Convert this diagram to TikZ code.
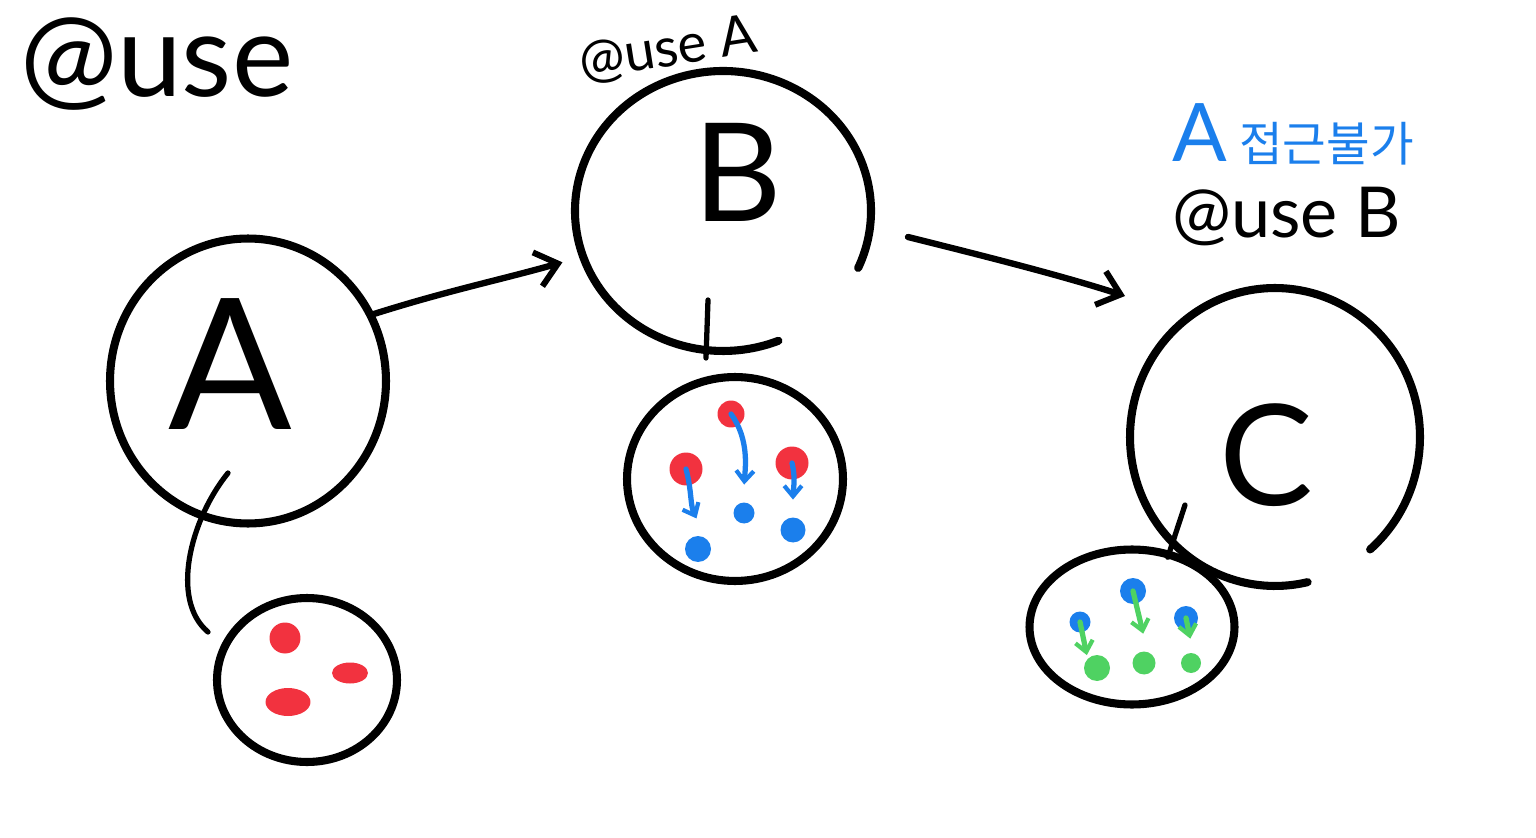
\documentclass[tikz,border=0pt]{standalone}
\usepackage{fontspec}
\setmainfont{Lato}
\newfontfamily\kor{Noto Sans CJK KR}
\usetikzlibrary{shapes.geometric,arrows.meta}
\definecolor{dotred}{HTML}{F2323F}
\definecolor{dotblue}{HTML}{1B7FEC}
\definecolor{dotgreen}{HTML}{4FD262}
\tikzset{
  ink/.style={line width=4.6pt,line cap=round,line join=round,black},
  thin ink/.style={line width=3pt,line cap=round,line join=round,black},
  ring/.style={ellipse,inner sep=0pt,ink,draw},
  holder/.style={ellipse,inner sep=0pt},
  big letter/.style={font=\fontsize{#1}{#1}\selectfont},
  reddot/.style={circle,fill=dotred,inner sep=0pt,minimum size=#1},
  bluedot/.style={circle,fill=dotblue,inner sep=0pt,minimum size=#1},
  greendot/.style={circle,fill=dotgreen,inner sep=0pt,minimum size=#1},
  move/.style={line width=3pt,line cap=round,-{Straight Barb[length=6pt,width=10pt,line width=2.4pt]},shorten >=2pt},
  bigarrow/.style={ink,line width=3.6pt,-{Straight Barb[length=12pt,width=20pt,line width=3.4pt]}}
}
\begin{document}
\begin{tikzpicture}[x=0.02cm,y=-0.02cm]
\useasboundingbox (0,0) rectangle (1536,838);

% headings
\node[big letter=66pt,anchor=west] (t1) at (14,64) {@use};
\node[big letter=31pt,rotate=9] (t2) at (668,50) {@use A};
\node[big letter=27pt,anchor=west,text=dotblue] (t3) at (1166,134) {{\fontsize{46pt}{46pt}\selectfont A} {\kor 접근불가}};
\node[big letter=40pt,anchor=west] (t4) at (1166,217) {@use B};

% circle A
\node[ring,minimum width=5.52cm,minimum height=5.7cm] (A) at (248,381) {};
\node[big letter=104pt] (la) at (230,364) {A};
% small A
\node[ring,minimum width=3.6cm,minimum height=3.28cm] (sa) at (307,680) {};
\node[reddot=0.62cm] (a1) at (285,638) {};
\node[ellipse,fill=dotred,inner sep=0pt,minimum width=0.72cm,minimum height=0.42cm] (a2) at (350,673) {};
\node[ellipse,fill=dotred,inner sep=0pt,minimum width=0.9cm,minimum height=0.56cm] (a3) at (288,702) {};
\coordinate (ja) at (228,473);
\draw[thin ink] (ja) .. controls (190,520) and (170,600) .. (208,632);

% circle B
\coordinate (B) at (723,211);
\node[holder,minimum width=5.92cm,minimum height=5.6cm] (Bn) at (B) {};
\draw[ink] ([shift={(-24:2.96cm and 2.8cm)}]B) arc[start angle=-24,end angle=292,x radius=2.96cm,y radius=2.8cm];
\node[big letter=78pt] (lb) at (738,172) {B};
\coordinate (jb) at (708,300);
\coordinate (jb2) at (706,358);
% small B
\node[ring,minimum width=4.32cm,minimum height=4.08cm] (sb) at (735,479) {};
\draw[thin ink] (jb) -- (jb2);
\node[reddot=0.54cm] (r1) at (731,414) {};
\node[reddot=0.66cm] (r2) at (686,469) {};
\node[reddot=0.66cm] (r3) at (792,463) {};
\node[bluedot=0.52cm] (b1) at (698,549) {};
\node[bluedot=0.42cm] (b2) at (744,513) {};
\node[bluedot=0.5cm] (b3) at (793,530) {};
\draw[move,dotblue] (r1.center) .. controls (750,440) and (745,470) .. ([yshift=8pt]b2.north);
\draw[move,dotblue] (r2.center) .. controls (692,492) and (690,505) .. ([yshift=8pt]b1.north);
\draw[move,dotblue] (r3.center) .. controls (796,480) and (793,490) .. ([yshift=8pt]b3.north);

% arrows between stages
\draw[bigarrow,shorten >=12pt] (A.28) .. controls (450,290) and (500,280) .. (Bn.198);
\draw[bigarrow] (908,237) .. controls (980,255) and (1060,275) .. (1125,296);

% circle C
\coordinate (C) at (1275,437);
\node[holder,minimum width=5.8cm,minimum height=5.96cm] (Cn) at (C) {};
\draw[ink] ([shift={(-49:2.9cm and 2.98cm)}]C) arc[start angle=-49,end angle=283,x radius=2.9cm,y radius=2.98cm];
\node[big letter=80pt] (lc) at (1266,455) {C};
\coordinate (jc) at (1185,505);
% small C
\node[ring,minimum width=4.1cm,minimum height=3.1cm] (sc) at (1132,627) {};
\draw[thin ink] (jc) -- ([yshift=-4pt]sc.65);
\node[bluedot=0.42cm] (c1) at (1080,622) {};
\node[bluedot=0.52cm] (c2) at (1133,591) {};
\node[bluedot=0.48cm] (c3) at (1186,618) {};
\node[greendot=0.52cm] (g1) at (1097,668) {};
\node[greendot=0.46cm] (g2) at (1144,663) {};
\node[greendot=0.4cm] (g3) at (1191,663) {};
\draw[move,dotgreen] (c1.center) -- (g1.north west);
\draw[move,dotgreen] (c2.center) -- ([yshift=8pt]g2.north);
\draw[move,dotgreen] (c3.center) -- ([yshift=6pt]g3.north);
\end{tikzpicture}
\end{document}
